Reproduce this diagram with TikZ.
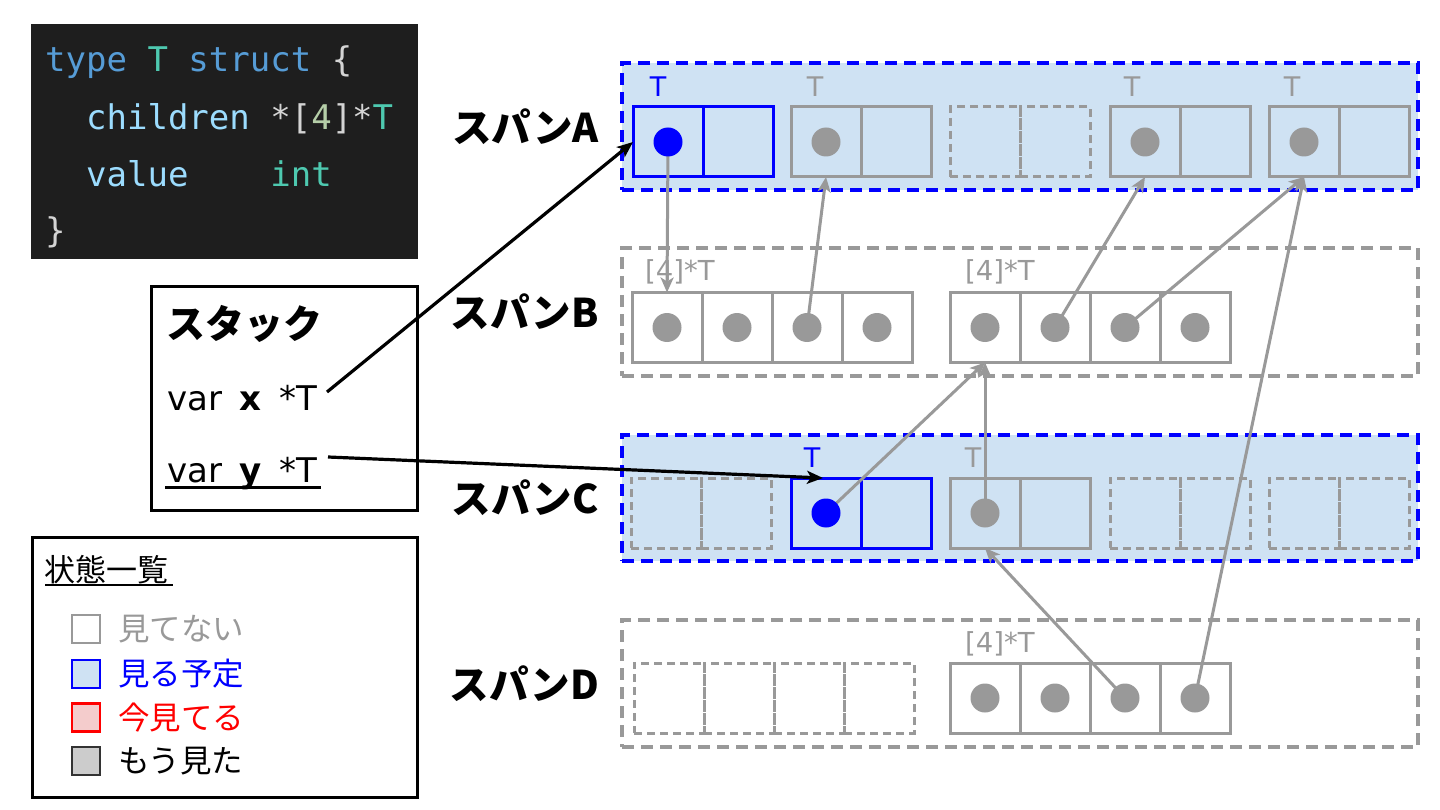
\documentclass[tikz,border=0pt]{standalone}
\usepackage{fontspec}
\setmainfont{DejaVu Sans}
\setmonofont{DejaVu Sans Mono}
\newfontfamily\jp{Noto Sans CJK JP}
\usetikzlibrary{arrows.meta}
\definecolor{spanfill}{HTML}{CFE2F3}
\definecolor{gblue}{HTML}{0000FF}
\definecolor{ggray}{HTML}{999999}
\definecolor{codebg}{HTML}{1E1E1E}
\definecolor{ckw}{HTML}{569CD6}
\definecolor{ctype}{HTML}{4EC9B0}
\definecolor{cvar}{HTML}{9CDCFE}
\definecolor{cnum}{HTML}{B5CEA8}
\definecolor{cpun}{HTML}{D4D4D4}
\definecolor{lred}{HTML}{FF0000}
\definecolor{lredfill}{HTML}{F4CCCC}
\definecolor{ldone}{HTML}{CCCCCC}
\definecolor{ldoneb}{HTML}{333333}
\newcommand\codesp{\phantom{x}}
\begin{document}
\begin{tikzpicture}[x=1pt,y=-1pt,
  cell/.style={draw=ggray, line width=3pt, minimum width=70pt, minimum height=70pt, inner sep=0pt, outer sep=0pt},
  bcell/.style={cell, draw=gblue},
  dcell/.style={cell, dash pattern=on 8pt off 5pt},
  wcell/.style={cell, fill=white},
  spanbox/.style={minimum width=796pt, inner sep=0pt, outer sep=0pt, line width=3.6pt, dash pattern=on 12pt off 7pt},
  bluespan/.style={spanbox, draw=gblue, fill=spanfill},
  grayspan/.style={spanbox, draw=ggray},
  spanlabel/.style={anchor=east, inner sep=0pt, font=\jp\bfseries\fontsize{39.5}{44}\selectfont},
  tlab/.style={inner sep=0pt, font=\fontsize{27}{30}\selectfont},
  arrlab/.style={anchor=west, inner sep=0pt, text=ggray, font=\fontsize{27.5}{30}\selectfont},
  garrow/.style={draw=ggray, line width=3pt, -{Stealth[length=15pt,width=13pt,inset=4pt]}},
  barrow/.style={draw=black, line width=3.2pt, -{Stealth[length=16pt,width=13pt,inset=4pt]}},
  codeline/.style={anchor=base west, inner sep=0pt, font=\ttfamily\fontsize{34}{42}\selectfont},
  frame/.style={draw=black, line width=3pt, fill=white, inner sep=0pt},
  lsq/.style={minimum size=28pt, line width=2.2pt, inner sep=0pt},
  ltext/.style={anchor=west, inner sep=0pt, font=\jp\fontsize{31.5}{36}\selectfont},
  vartext/.style={anchor=base west, inner sep=0pt, font=\fontsize{34}{40}\selectfont}
]
\useasboundingbox (0,0) rectangle (1440,810);
\fill[white] (0,0) rectangle (1440,810);

% code box
\node[fill=codebg, minimum width=387pt, minimum height=235pt, inner sep=0pt] (code) at (224.5,141.5) {};
\node[codeline] (l1) at (45,72) {\textcolor{ckw}{type}\codesp\textcolor{ctype}{T}\codesp\textcolor{ckw}{struct}\codesp\textcolor{cpun}{\{}};
\node[codeline] (l2) at (45,130) {\codesp\codesp\textcolor{cvar}{children}\codesp\textcolor{cpun}{*[}\textcolor{cnum}{4}\textcolor{cpun}{]*}\textcolor{ctype}{T}};
\node[codeline] (l3) at (45,187) {\codesp\codesp\textcolor{cvar}{value}\codesp\codesp\codesp\codesp\textcolor{ctype}{int}};
\node[codeline] (l4) at (45,243) {\textcolor{cpun}{\}}};

% stack box
\node[frame, minimum width=266pt, minimum height=223pt] (stack) at (284,398.5) {};
\node[anchor=west, inner sep=0pt, font=\jp\bfseries\fontsize{39}{44}\selectfont] (stitle) at (166,324) {スタック};
\node[vartext] (varx) at (167,410) {var\hspace{17pt}\textbf{x}\hspace{18pt}*T};
\node[vartext] (vary) at (167,482) {var\hspace{17pt}\textbf{y}\hspace{18pt}*T};
\draw[line width=3pt] (165,487) -- (321,487);
\coordinate (xs) at (327,392);
\coordinate (ys) at (328,457);

% legend
\node[frame, minimum width=385pt, minimum height=260pt] (legend) at (224.5,667) {};
\node[anchor=west, inner sep=0pt, font=\jp\fontsize{31}{36}\selectfont] (ltitle) at (44,570) {状態一覧};
\draw[line width=2.5pt] (45,585) -- (173,585);
\node[lsq, draw=ggray, fill=white] (sq1) at (86,629) {};
\node[lsq, draw=gblue, fill=spanfill] (sq2) at (86,674) {};
\node[lsq, draw=lred, fill=lredfill] (sq3) at (86,717.5) {};
\node[lsq, draw=ldoneb, fill=ldone] (sq4) at (86,761) {};
\node[ltext, text=ggray] (t1) at (118,629) {見てない};
\node[ltext, text=gblue] (t2) at (118,674) {見る予定};
\node[ltext, text=lred] (t3) at (118,717.5) {今見てる};
\node[ltext, text=black] (t4) at (118,761) {もう見た};

% span labels
\node[spanlabel] (la) at (599,126.5) {スパンA};
\node[spanlabel] (lb) at (599,312) {スパンB};
\node[spanlabel] (lc) at (599,498) {スパンC};
\node[spanlabel] (ld) at (599,683.5) {スパンD};

% span boxes
\node[bluespan, minimum height=127pt] (spanA) at (1020,126.5) {};
\node[grayspan, minimum height=128pt] (spanB) at (1020,312) {};
\node[bluespan, minimum height=126pt] (spanC) at (1020,498) {};
\node[grayspan, minimum height=127pt] (spanD) at (1020,683.5) {};

% span A cells
\node[bcell] (a1) at (668,142) {};
\node[bcell] (a2) at (738,142) {};
\node[cell] (a3) at (826,142) {};
\node[cell] (a4) at (896,142) {};
\node[dcell] (a5) at (985,142) {};
\node[dcell] (a6) at (1055,142) {};
\node[cell] (a7) at (1145,142) {};
\node[cell] (a8) at (1215,142) {};
\node[cell] (a9) at (1304,142) {};
\node[cell] (a10) at (1374,142) {};
\node[tlab, text=gblue] (ta1) at (658,87) {T};
\node[tlab, text=ggray] (ta3) at (815,87) {T};
\node[tlab, text=ggray] (ta7) at (1132,87) {T};
\node[tlab, text=ggray] (ta9) at (1292,87) {T};

% span B cells
\node[wcell] (b1) at (667,327.5) {};
\node[wcell] (b2) at (737,327.5) {};
\node[wcell] (b3) at (807,327.5) {};
\node[wcell] (b4) at (877,327.5) {};
\node[wcell] (b5) at (985,327.5) {};
\node[wcell] (b6) at (1055,327.5) {};
\node[wcell] (b7) at (1125,327.5) {};
\node[wcell] (b8) at (1195,327.5) {};
\node[arrlab] (tb1) at (645,272) {[4]*T};
\node[arrlab] (tb5) at (965,272) {[4]*T};

% span C cells
\node[dcell] (c1) at (666,513) {};
\node[dcell] (c2) at (736,513) {};
\node[bcell] (c3) at (826,513) {};
\node[bcell] (c4) at (896,513) {};
\node[cell] (c5) at (985,513) {};
\node[cell] (c6) at (1055,513) {};
\node[dcell] (c7) at (1145,513) {};
\node[dcell] (c8) at (1215,513) {};
\node[dcell] (c9) at (1304,513) {};
\node[dcell] (c10) at (1374,513) {};
\node[tlab, text=gblue] (tc3) at (812,458) {T};
\node[tlab, text=ggray] (tc5) at (973,458) {T};

% span D cells
\node[dcell] (d1) at (669,698) {};
\node[dcell] (d2) at (739,698) {};
\node[dcell] (d3) at (809,698) {};
\node[dcell] (d4) at (879,698) {};
\node[wcell] (d5) at (985,698) {};
\node[wcell] (d6) at (1055,698) {};
\node[wcell] (d7) at (1125,698) {};
\node[wcell] (d8) at (1195,698) {};
\node[arrlab] (td5) at (965,644) {[4]*T};

% gray arrows
\draw[garrow] (a1.center) -- (b1.north);
\draw[garrow] (b3.center) -- (a3.south);
\draw[garrow] (b6.center) -- (a7.south);
\draw[garrow] (b7.center) -- (a9.south);
\draw[garrow] (d8.center) -- (a9.south);
\draw[garrow] (c3.center) -- (b5.south);
\draw[garrow] (c5.center) -- (b5.south);
\draw[garrow] (d7.center) -- (c5.south);

% black arrows
\draw[barrow] (xs) -- (a1.west);
\draw[barrow] (ys) -- ([xshift=-3pt]c3.north);

% dots
\fill[gblue] (a1.center) circle[radius=14.5pt];
\fill[ggray] (a3.center) circle[radius=14.5pt];
\fill[ggray] (a7.center) circle[radius=14.5pt];
\fill[ggray] (a9.center) circle[radius=14.5pt];
\foreach \n in {b1,b2,b3,b4,b5,b6,b7,b8,c5,d5,d6,d7,d8}
  \fill[ggray] (\n.center) circle[radius=14.5pt];
\fill[gblue] (c3.center) circle[radius=14.5pt];
\end{tikzpicture}
\end{document}
